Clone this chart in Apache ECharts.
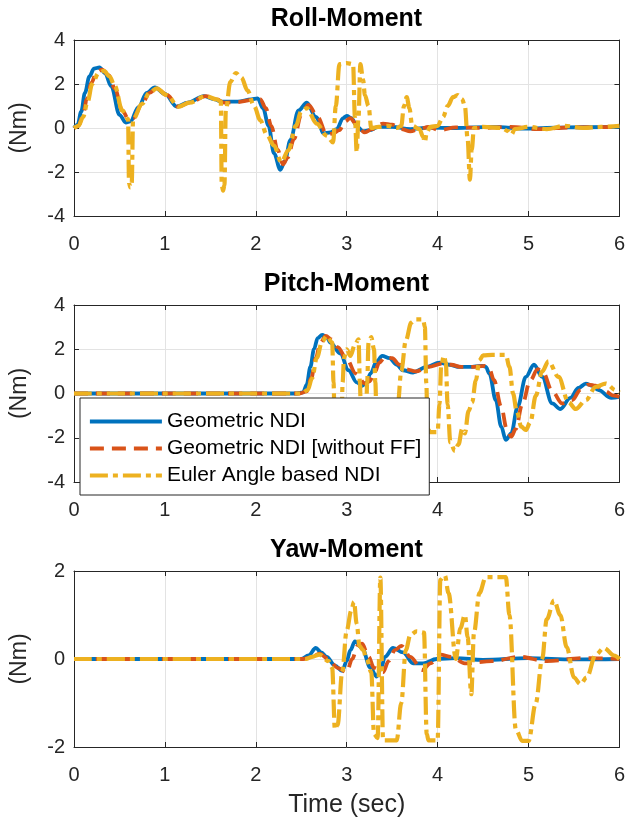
<!DOCTYPE html>
<html lang="en">
<head>
    <meta charset="utf-8">
    <title>Moments</title>
    <script src="https://cdn.jsdelivr.net/npm/echarts@6/dist/echarts.min.js"></script>
    <style>
        html, body {margin: 0; padding: 0; background: #fff;}
        #chart {width: 628px; height: 825px;}
    </style>
</head>
<body>
<div id="chart"></div>
<script type="text/javascript">
    // series names
    const names = ['Geometric NDI', 'Geometric NDI [without FF]', 'Euler Angle based NDI'];
    const xTicks = [0, 1, 2, 3, 4, 5, 6];

    // Roll-Moment  [time, Nm]
    const rollGeo = [[0,0],[0.04,0.15],[0.08,0.75],[0.12,1.6],[0.17,2.35],[0.22,2.7],[0.28,2.75],[0.34,2.5],[0.41,1.9],[0.5,0.6],[0.57,0.25],[0.62,0.3],[0.71,0.95],[0.8,1.6],[0.89,1.85],[1.0,1.55],[1.13,0.97],[1.25,1.15],[1.43,1.45],[1.55,1.3],[1.62,1.2],[1.8,1.2],[1.95,1.3],[2.02,1.35],[2.08,0.9],[2.14,0.1],[2.2,-1.15],[2.27,-1.9],[2.32,-1.5],[2.38,-0.55],[2.47,0.8],[2.56,1.15],[2.66,0.5],[2.75,-0.25],[2.82,-0.2],[2.89,-0.05],[2.96,0.45],[3.0,0.55],[3.05,0.45],[3.12,0.05],[3.18,-0.15],[3.25,-0.1],[3.35,0.05],[3.5,0.05],[3.7,-0.05],[3.9,0.02],[4.2,0.0],[4.6,0.05],[5.0,-0.03],[5.4,0.03],[6,0.05]];
    const rollNoFF = [[0,0],[0.05,0.1],[0.1,0.6],[0.14,1.3],[0.19,2.05],[0.25,2.55],[0.31,2.65],[0.38,2.4],[0.45,1.8],[0.53,0.8],[0.6,0.4],[0.65,0.45],[0.75,1.1],[0.83,1.6],[0.91,1.8],[1.02,1.5],[1.15,0.97],[1.27,1.15],[1.45,1.45],[1.57,1.3],[1.65,1.15],[1.8,1.18],[1.97,1.28],[2.05,1.3],[2.11,0.9],[2.17,0.1],[2.24,-1.0],[2.3,-1.65],[2.35,-1.35],[2.42,-0.5],[2.5,0.6],[2.58,1.05],[2.68,0.5],[2.78,-0.3],[2.85,-0.25],[2.92,-0.1],[2.98,0.3],[3.04,0.45],[3.1,0.2],[3.2,-0.2],[3.28,-0.05],[3.4,0.2],[3.5,0.15],[3.6,-0.05],[3.7,-0.15],[3.8,-0.05],[3.9,0.05],[4.02,-0.1],[4.2,0.03],[4.5,0.0],[4.8,0.05],[5.1,-0.05],[5.5,0.03],[6,0.05]];
    const rollEuler = [[0,0],[0.05,0.1],[0.1,0.5],[0.15,1.2],[0.2,2.0],[0.27,2.5],[0.33,2.6],[0.39,2.35],[0.45,1.9],[0.53,0.8],[0.595,0.4],[0.605,-2.5],[0.62,-2.7],[0.635,-2.5],[0.65,0.4],[0.75,1.1],[0.83,1.6],[0.91,1.8],[1.02,1.5],[1.15,0.97],[1.27,1.15],[1.45,1.45],[1.57,1.3],[1.615,1.2],[1.625,-2.6],[1.64,-2.85],[1.655,-2.6],[1.67,0.8],[1.72,2.1],[1.78,2.5],[1.84,2.3],[1.91,1.7],[1.98,1.0],[2.05,0.35],[2.12,-0.3],[2.2,-0.8],[2.28,-1.55],[2.36,-1.0],[2.44,0.1],[2.5,0.75],[2.56,0.9],[2.67,0.2],[2.78,-0.35],[2.85,-0.65],[2.88,1.0],[2.92,2.9],[3.0,2.95],[3.07,2.9],[3.09,0.5],[3.11,-1.1],[3.13,0.5],[3.15,2.9],[3.18,2.2],[3.2,1.5],[3.24,1.0],[3.27,0.0],[3.35,0.05],[3.45,0.1],[3.55,0.0],[3.6,0.1],[3.63,1.0],[3.66,1.4],[3.69,0.9],[3.72,0.1],[3.8,-0.05],[3.84,-0.4],[3.86,-0.65],[3.88,-0.2],[3.92,0.05],[4.0,0.1],[4.06,0.5],[4.11,1.0],[4.17,1.4],[4.22,1.5],[4.27,1.3],[4.3,1.0],[4.33,-0.5],[4.355,-2.35],[4.375,-1.0],[4.4,0.0],[4.5,0.05],[4.7,0.0],[4.78,-0.15],[4.81,-0.3],[4.85,-0.05],[5.0,0.05],[5.2,-0.05],[5.4,0.1],[5.6,0.0],[5.8,0.05],[6,0.1]];

    // Pitch-Moment
    const pitchGeo = [[0,0],[2.45,0],[2.52,0.05],[2.56,0.4],[2.6,1.2],[2.64,2.0],[2.68,2.5],[2.73,2.65],[2.78,2.55],[2.82,2.3],[2.93,1.8],[3.02,1.05],[3.11,0.5],[3.17,0.35],[3.22,0.5],[3.26,0.9],[3.33,1.45],[3.39,1.7],[3.47,1.6],[3.55,1.3],[3.62,1.05],[3.73,0.95],[3.88,1.2],[4.02,1.4],[4.13,1.3],[4.24,1.2],[4.35,1.2],[4.49,1.25],[4.53,1.2],[4.57,0.9],[4.64,-0.3],[4.7,-1.5],[4.75,-2.1],[4.81,-1.8],[4.88,-0.6],[4.97,0.75],[5.06,1.3],[5.15,0.75],[5.26,-0.45],[5.35,-0.7],[5.46,-0.2],[5.55,0.25],[5.63,0.45],[5.7,0.35],[5.77,0.15],[5.91,-0.2],[6.0,-0.15]];
    const pitchNoFF = [[0,0],[2.48,0],[2.56,0.1],[2.61,0.7],[2.66,1.6],[2.71,2.3],[2.77,2.6],[2.83,2.45],[2.9,2.1],[3.0,1.55],[3.1,0.9],[3.2,0.45],[3.25,0.55],[3.3,0.9],[3.36,1.4],[3.42,1.65],[3.5,1.6],[3.58,1.3],[3.65,1.1],[3.76,1.0],[3.9,1.2],[4.05,1.35],[4.15,1.3],[4.26,1.2],[4.38,1.2],[4.52,1.25],[4.57,1.1],[4.62,0.6],[4.7,-0.6],[4.76,-1.6],[4.81,-1.95],[4.86,-1.6],[4.93,-0.5],[5.02,0.6],[5.1,1.1],[5.16,0.95],[5.26,0.1],[5.37,-0.45],[5.48,-0.3],[5.57,0.15],[5.66,0.4],[5.74,0.35],[5.84,0.1],[5.94,-0.1],[6.0,-0.15]];
    const pitchEuler = [[0,0],[2.5,0],[2.57,0.15],[2.62,0.7],[2.67,1.6],[2.73,2.35],[2.78,2.6],[2.84,2.3],[2.855,0.5],[2.87,-2.0],[2.94,-2.1],[2.955,0.5],[2.97,1.6],[3.0,2.0],[3.04,1.7],[3.09,2.2],[3.13,2.45],[3.145,0.5],[3.16,-1.8],[3.21,-1.8],[3.225,0.5],[3.24,2.3],[3.27,2.55],[3.3,2.0],[3.315,0.5],[3.33,-1.5],[3.4,-1.8],[3.52,-1.8],[3.56,-0.6],[3.6,1.0],[3.65,2.4],[3.71,3.2],[3.76,3.35],[3.84,3.35],[3.86,3.0],[3.875,0.5],[3.89,-1.6],[3.92,-1.75],[4.0,-1.75],[4.02,-0.5],[4.04,1.3],[4.07,1.7],[4.09,1.4],[4.11,-0.5],[4.14,-2.2],[4.19,-2.6],[4.23,-2.3],[4.27,-1.6],[4.3,-1.8],[4.34,-0.8],[4.38,-0.4],[4.42,0.6],[4.46,1.5],[4.5,1.72],[4.6,1.75],[4.75,1.75],[4.79,1.2],[4.83,0.0],[4.87,-0.8],[4.92,-1.5],[4.97,-1.65],[5.02,-1.3],[5.08,-0.1],[5.15,1.0],[5.22,1.45],[5.33,0.75],[5.44,-0.4],[5.52,-0.7],[5.63,-0.3],[5.74,0.3],[5.85,0.45],[5.96,0.15],[6.0,0.05]];

    // Yaw-Moment
    const yawGeo = [[0,0],[2.5,0],[2.58,0.08],[2.66,0.25],[2.72,0.15],[2.78,0.05],[2.87,-0.15],[2.95,-0.27],[3.0,-0.05],[3.04,0.2],[3.09,0.4],[3.17,0.25],[3.26,-0.2],[3.33,-0.4],[3.38,-0.2],[3.42,0.05],[3.51,0.25],[3.62,0.15],[3.73,-0.1],[3.84,-0.1],[3.99,0.0],[4.2,0.02],[4.5,-0.02],[5.0,0.02],[5.5,-0.01],[6,0.0]];
    const yawNoFF = [[0,0],[2.52,0],[2.62,0.05],[2.7,0.12],[2.8,0.0],[2.9,-0.2],[3.0,-0.3],[3.06,0.0],[3.12,0.3],[3.17,0.35],[3.24,0.05],[3.3,-0.2],[3.4,-0.3],[3.46,-0.05],[3.53,0.2],[3.6,0.3],[3.7,0.05],[3.83,-0.25],[3.92,-0.1],[4.03,0.1],[4.15,0.05],[4.3,-0.1],[4.6,-0.05],[4.9,0.05],[5.2,-0.05],[5.6,0.02],[6,0.0]];
    const yawEuler = [[0,0],[2.55,0],[2.62,0.05],[2.7,0.1],[2.8,-0.05],[2.84,-0.2],[2.87,-1.6],[2.9,-1.5],[2.95,-0.3],[3.0,0.65],[3.05,1.1],[3.08,1.3],[3.11,0.8],[3.14,0.3],[3.18,0.2],[3.22,0.0],[3.27,-0.3],[3.3,-1.7],[3.34,-1.8],[3.37,1.85],[3.4,-1.85],[3.55,-1.85],[3.6,-1.0],[3.65,0.2],[3.7,0.55],[3.77,0.63],[3.85,0.6],[3.88,-1.7],[3.9,-1.85],[4.0,-1.85],[4.03,1.8],[4.08,1.9],[4.12,1.5],[4.2,0.0],[4.25,0.7],[4.3,1.0],[4.33,0.5],[4.37,-0.8],[4.4,0.6],[4.46,1.5],[4.53,1.86],[4.75,1.86],[4.79,1.0],[4.86,-1.6],[4.93,-1.86],[5.0,-1.86],[5.08,-1.0],[5.15,0],[5.2,0.9],[5.28,1.33],[5.35,1.0],[5.42,0.27],[5.5,-0.42],[5.57,-0.57],[5.64,-0.42],[5.74,0.1],[5.83,0.25],[5.94,0.08],[6.0,0]];

    const colors = ['#0072BD', '#D95319', '#EDB120'];
    const dashes = ['solid', [14, 8], [18, 5, 5, 5]];
    const widths = [3.8, 3.8, 4.2];
    const font = 'Liberation Sans, Arial, sans-serif';
    const axisColor = '#262626';

    const panels = [
        {title: 'Roll-Moment', top: 40, height: 176, min: -4, max: 4, step: 2, data: [rollGeo, rollNoFF, rollEuler]},
        {title: 'Pitch-Moment', top: 305, height: 177, min: -4, max: 4, step: 2, data: [pitchGeo, pitchNoFF, pitchEuler]},
        {title: 'Yaw-Moment', top: 571, height: 176, min: -2, max: 2, step: 2, data: [yawGeo, yawNoFF, yawEuler]}
    ];

    const chart = echarts.init(document.getElementById('chart'), null, {renderer: 'canvas'});
    const grids = [], xAxes = [], yAxes = [], series = [], titles = [];

    panels.forEach(function (p, i)
    {
        grids.push({left: 72, right: 7, top: p.top, height: p.height});
        titles.push({
            text: p.title, left: 346.5, textAlign: 'center', top: p.top - 33, padding: 0,
            textStyle: {fontFamily: font, fontSize: 25, fontWeight: 'bold', color: '#000'}
        });
        const last = i === panels.length - 1;
        // bottom x axis
        xAxes.push({
            type: 'value', gridIndex: i, min: 0, max: 6, interval: 1, position: 'bottom',
            axisLine: {show: true, onZero: false, lineStyle: {color: axisColor, width: 1}},
            axisTick: {show: true, inside: true, length: 5, lineStyle: {color: axisColor}},
            axisLabel: {margin: 18, fontFamily: font, fontSize: 20, color: axisColor},
            splitLine: {show: true, lineStyle: {color: '#e3e3e3', width: 1}},
            name: last ? 'Time (sec)' : '', nameLocation: 'middle', nameGap: 46,
            nameTextStyle: {fontFamily: font, fontSize: 25, color: axisColor}
        });
        // top x axis (box ticks)
        xAxes.push({
            type: 'value', gridIndex: i, min: 0, max: 6, interval: 1, position: 'top',
            axisLine: {show: true, onZero: false, lineStyle: {color: axisColor, width: 1}},
            axisTick: {show: true, inside: true, length: 5, lineStyle: {color: axisColor}},
            axisLabel: {show: false}, splitLine: {show: false}
        });
        yAxes.push({
            type: 'value', gridIndex: i, min: p.min, max: p.max, interval: p.step, position: 'left',
            axisLine: {show: true, onZero: false, lineStyle: {color: axisColor, width: 1}},
            axisTick: {show: true, inside: true, length: 5, lineStyle: {color: axisColor}},
            axisLabel: {margin: 9, fontFamily: font, fontSize: 20, color: axisColor},
            splitLine: {show: true, lineStyle: {color: '#e3e3e3', width: 1}},
            name: '(Nm)', nameLocation: 'middle', nameGap: 43, nameRotate: 90,
            nameTextStyle: {fontFamily: font, fontSize: 23, color: axisColor}
        });
        yAxes.push({
            type: 'value', gridIndex: i, min: p.min, max: p.max, interval: p.step, position: 'right',
            axisLine: {show: true, onZero: false, lineStyle: {color: axisColor, width: 1}},
            axisTick: {show: true, inside: true, length: 5, lineStyle: {color: axisColor}},
            axisLabel: {show: false}, splitLine: {show: false}
        });
        p.data.forEach(function (d, k)
        {
            series.push({
                name: names[k], type: 'line', xAxisIndex: 2 * i, yAxisIndex: 2 * i,
                data: d, showSymbol: false, symbol: 'none',
                smooth: 0.35, smoothMonotone: 'x', clip: true,
                lineStyle: {color: colors[k], width: widths[k], type: dashes[k], cap: 'butt'},
                itemStyle: {color: colors[k]},
                z: 2 + k
            });
        });
    });

    chart.setOption({
        animation: false,
        backgroundColor: '#fff',
        title: titles,
        grid: grids,
        xAxis: xAxes,
        yAxis: yAxes,
        legend: {
            data: names, orient: 'vertical', left: 80, top: 398,
            padding: [13, 8, 9, 8], itemGap: 6, itemWidth: 72, itemHeight: 14,
            backgroundColor: '#fff', borderColor: axisColor, borderWidth: 1,
            itemStyle: {opacity: 0},
            lineStyle: {width: 3.8},
            textStyle: {fontFamily: font, fontSize: 21, color: '#000'},
            selectedMode: false, z: 10
        },
        series: series
    });
</script>
</body>
</html>
